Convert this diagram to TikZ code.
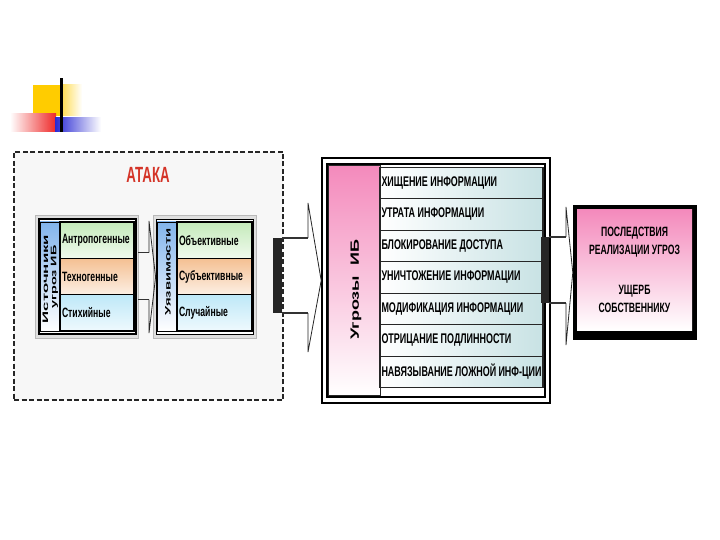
\documentclass[tikz,border=0pt]{standalone}
\usepackage{fontspec}
\usepackage{graphicx}
\setmainfont{Liberation Sans}
\newfontfamily\narrowfont{Liberation Sans}[FakeStretch=0.64]

\definecolor{logoyellow}{RGB}{255,204,0}
\definecolor{logored}{RGB}{238,40,40}
\definecolor{logoblue}{RGB}{40,40,210}
\definecolor{atakred}{RGB}{212,52,40}
\definecolor{rowgreen}{RGB}{196,234,186}
\definecolor{rowpeach}{RGB}{244,192,146}
\definecolor{rowcyan}{RGB}{190,232,248}
\definecolor{colblue}{RGB}{130,180,235}
\definecolor{ibpink}{RGB}{244,138,188}
\definecolor{rowteal}{RGB}{200,226,228}

\tikzset{
  attackbox/.style={draw=black!85, line width=1.5pt, dash pattern=on 5pt off 2.5pt,
    fill=gray!6, inner sep=0pt},
  outerbox/.style={draw=gray!55, line width=0.8pt, fill=gray!25, inner sep=0pt},
  innerbox/.style={draw=black, line width=1.2pt, fill=white, inner sep=0pt},
  colbox/.style={draw=black, line width=0.8pt, top color=colblue, bottom color=white,
    inner sep=0pt},
  cellbox/.style={draw=black, line width=1.2pt, inner sep=0pt, inner xsep=2pt,
    minimum height=36.33pt, text width=70pt, align=flush left,
    font=\narrowfont\bfseries\fontsize{13.5}{13.5}\selectfont},
  threatrow/.style={draw=black!85, line width=1.2pt, left color=white, right color=rowteal,
    inner sep=0pt, inner xsep=1.5pt, minimum height=31.5pt, text width=160pt,
    align=flush left, font=\narrowfont\bfseries\fontsize{14}{14}\selectfont},
  sidelbl/.style={rotate=90, inner sep=0pt, font=\bfseries\fontsize{8}{8}\selectfont},
  bar/.style={fill=black!85, inner sep=0pt},
  shaft/.style={draw=black!80, line width=1.6pt},
  head/.style={draw=black!85, line width=0.8pt, line join=miter}
}

\begin{document}
\begin{tikzpicture}[x=1pt,y=-1pt]
\useasboundingbox (0,0) rectangle (720,540);
\fill[white] (0,0) rectangle (720,540);

% Logo
\fill[logoyellow] (33,85) rectangle (61,116);
\shade[left color=logoyellow!70, right color=white] (61,85) rectangle (82,116);
\shade[left color=white, right color=logored] (10,114) rectangle (56,132);
\shade[left color=logoblue, right color=white] (55,118) rectangle (101,132);
\fill[black] (60,78) rectangle (63,132);

% Attack
\node[attackbox, minimum width=269pt, minimum height=248pt] (attack) at (148.5,276) {};
\node[text=atakred, font=\narrowfont\bfseries\fontsize{22}{22}\selectfont] (attacklbl)
  at (148,175) {\scalebox{0.94}[1]{АТАКА}};

% Sources of threats
\node[outerbox, minimum width=103pt, minimum height=123pt] (src) at (86.5,276.5) {};
\node[innerbox, minimum width=97pt, minimum height=115pt] (srcin) at (87.5,276.5) {};
\node[colbox, minimum width=20pt, minimum height=109pt] (srccol) at (50,276.5) {};
\node[sidelbl] (srclbl1) at (45.5,279) {\scalebox{2.1}[1]{Источники}};
\node[sidelbl] (srclbl2) at (54.5,277) {\scalebox{1.8}[1]{угроз ИБ}};
\foreach \t/\c [count=\i] in {Антропогенные/rowgreen, Техногенные/rowpeach, Стихийные/rowcyan}
  \node[cellbox, top color=\c, bottom color=\c!25] (src\i) at (97,{203.83+36.33*\i}) {\t};

% Vulnerabilities
\node[outerbox, minimum width=103pt, minimum height=123pt] (vuln) at (204.5,277) {};
\node[innerbox, minimum width=97pt, minimum height=115pt] (vulnin) at (205,277) {};
\node[colbox, minimum width=20pt, minimum height=109pt] (vulncol) at (167,276.5) {};
\node[sidelbl] (vulnlbl) at (168,272) {\scalebox{1.85}[1]{Уязвимости}};
\foreach \t/\c [count=\i] in {Объективные/rowgreen, Субъективные/rowpeach, Случайные/rowcyan}
  \node[cellbox, text width=71pt, top color=\c, bottom color=\c!25] (vuln\i)
    at (214.5,{203.83+36.33*\i}) {\t};

% Arrow sources -> vulnerabilities
\coordinate (sa1) at (149,221);
\coordinate (sa2) at (149,333);
\coordinate (ss1) at ([yshift=24pt]src.east);
\coordinate (ss2) at ([yshift=-23pt]src.east);
\draw[shaft] (ss1) -- (ss1 -| sa1);
\draw[shaft] (ss2) -- (ss2 -| sa2);
\draw[head] (ss1 -| sa1) -- (sa1) -- ([xshift=3pt]vuln.west) -- (sa2) -- (ss2 -| sa2);

% Threats
\node[draw=black, line width=1.6pt, fill=white, inner sep=0pt,
  minimum width=228pt, minimum height=245pt] (threats) at (436,280.5) {};
\node[draw=black, line width=1.6pt, fill=white, inner sep=0pt,
  minimum width=218pt, minimum height=233pt] (threatsin) at (436,280.5) {};
\node[draw=black!85, line width=1pt, top color=ibpink, bottom color=white, inner sep=0pt,
  minimum width=52pt, minimum height=229pt] (ugroz) at (354,280.5) {};
\node[rotate=90, inner sep=0pt, font=\bfseries\fontsize{12}{12}\selectfont] (ugrozlbl)
  at (356,290) {\scalebox{1.5}[1]{Угрозы\ \ ИБ}};
\foreach \t [count=\i] in {ХИЩЕНИЕ ИНФОРМАЦИИ, УТРАТА ИНФОРМАЦИИ, БЛОКИРОВАНИЕ ДОСТУПА,
    УНИЧТОЖЕНИЕ ИНФОРМАЦИИ, МОДИФИКАЦИЯ ИНФОРМАЦИИ, ОТРИЦАНИЕ ПОДЛИННОСТИ,
    НАВЯЗЫВАНИЕ ЛОЖНОЙ ИНФ-ЦИИ}
  \node[threatrow] (thr\i) at (461.5,{151.5+31.5*\i}) {\t};

% Arrow attack -> threats
\node[bar, minimum width=9pt, minimum height=75pt] (bar1) at (277.5,275.5) {};
\coordinate (ma1) at (308,203);
\coordinate (ma2) at (308,352);
\draw[shaft] (bar1.north east) -- (bar1.north east -| ma1);
\draw[shaft] (bar1.south east) -- (bar1.south east -| ma2);
\draw[head] (bar1.north east -| ma1) -- (ma1) -- (threats.west) -- (ma2) -- (bar1.south east -| ma2);

% Consequences
\node[fill=black, inner sep=0pt, minimum width=124pt, minimum height=135pt] (conseq)
  at (635,272.5) {};
\node[top color=ibpink, bottom color=white, inner sep=0pt, minimum width=115pt,
  minimum height=120pt, align=center,
  font=\narrowfont\bfseries\fontsize{13.5}{18}\selectfont] (conseqin) at (634.5,270)
  {ПОСЛЕДСТВИЯ\\РЕАЛИЗАЦИИ УГРОЗ\\[22pt]УЩЕРБ\\СОБСТВЕННИКУ};

% Arrow threats -> consequences
\node[bar, minimum width=8pt, minimum height=66pt] (bar2) at (545,270) {};
\coordinate (ra1) at (566,207);
\coordinate (ra2) at (566,345);
\draw[shaft] (bar2.north east) -- (bar2.north east -| ra1);
\draw[shaft] (bar2.south east) -- (bar2.south east -| ra2);
\draw[head] (bar2.north east -| ra1) -- (ra1) -- (conseq.west) -- (ra2) -- (bar2.south east -| ra2);

\end{tikzpicture}
\end{document}
